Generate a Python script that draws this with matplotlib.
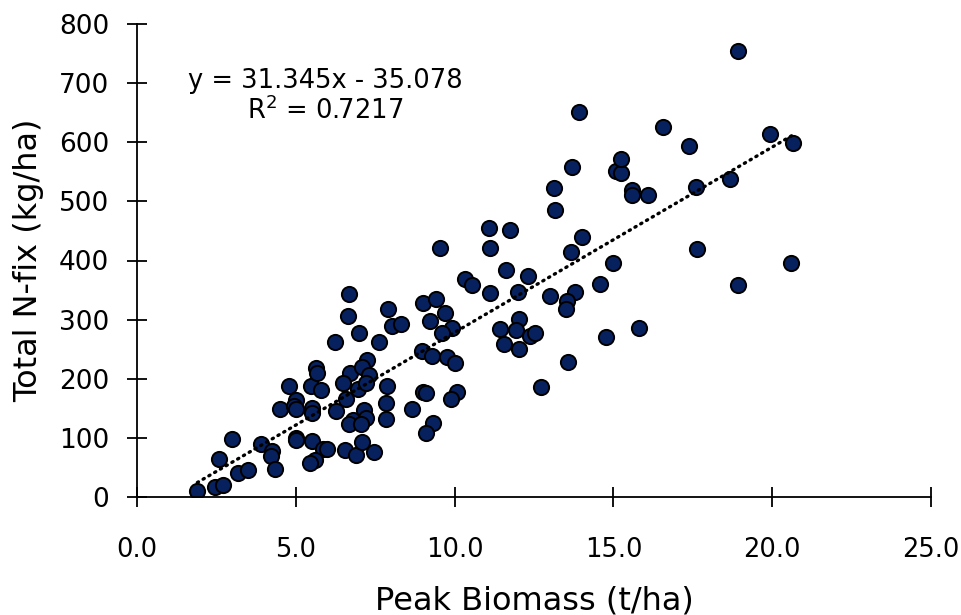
import matplotlib.pyplot as plt
import numpy as np

plt.rcParams['font.family'] = ['DejaVu Sans']

# peak biomass (t/ha) and total N-fix (kg/ha)
biomass = [1.90, 2.46, 2.70, 2.59, 3.00, 3.19, 3.50, 3.90, 4.24, 4.21,
           4.35, 4.50, 4.80, 5.00, 4.94, 5.00, 5.00, 5.02, 5.48, 5.50,
           5.50, 5.63, 5.66, 5.80, 5.51, 5.87, 5.97, 5.62, 5.45, 6.24,
           6.25, 6.66, 6.64, 6.71, 6.50, 6.59, 6.79, 6.69, 6.56, 6.88,
           7.00, 6.97, 7.23, 7.09, 7.32, 7.20, 7.15, 7.21, 7.06, 7.10,
           7.46, 7.63, 7.90, 7.87, 7.85, 7.83, 8.03, 8.30, 8.67, 8.97,
           9.02, 9.41, 9.70, 9.23, 9.91, 9.61, 9.30, 9.77, 10.02, 9.02,
           9.10, 10.09, 9.89, 9.33, 9.09, 9.54, 10.32, 10.55, 11.07, 11.11,
           11.10, 11.73, 11.62, 12.32, 12.00, 12.02, 11.42, 11.94, 12.38, 12.54,
           11.55, 12.04, 12.73, 13.00, 13.14, 13.17, 13.69, 13.67, 14.00, 13.80,
           13.53, 13.50, 13.56, 13.92, 14.59, 14.76, 14.99, 15.09, 15.23, 15.25,
           15.59, 15.57, 16.10, 15.82, 16.57, 17.39, 17.60, 17.63, 18.68, 18.92,
           18.93, 19.93, 20.64, 20.59]
nfix = [10, 17, 20, 65, 98, 41, 46, 89, 78, 70,
        48, 148, 187, 164, 154, 148, 100, 96, 187, 151,
        142, 219, 209, 181, 94, 82, 81, 63, 57, 263,
        146, 344, 306, 209, 193, 165, 130, 123, 80, 71,
        277, 182, 231, 220, 206, 192, 147, 133, 124, 93,
        76, 263, 318, 188, 159, 132, 289, 293, 148, 247,
        328, 335, 312, 298, 286, 277, 239, 236, 227, 178,
        176, 178, 165, 126, 109, 421, 369, 359, 455, 421,
        345, 452, 384, 374, 347, 301, 284, 282, 272, 278,
        259, 250, 186, 340, 523, 486, 558, 415, 440, 346,
        332, 318, 228, 651, 360, 271, 395, 552, 548, 572,
        519, 510, 510, 285, 625, 594, 525, 420, 537, 754,
        358, 614, 598, 395]

# linear trendline shown on the chart
slope = 31.345
intercept = -35.078
r2 = 0.7217

fig = plt.figure(figsize=(9.61, 6.15), dpi=100)
ax = fig.add_axes([137/961, 1 - 497/615, (931 - 137)/961, (497 - 24)/615])

x = np.array(biomass)
xl = np.array([x.min(), x.max()])
ax.plot(xl, slope * xl + intercept, color='black', lw=2.4,
        linestyle=(0, (0.4, 1.6)), dash_capstyle='round', zorder=3)
ax.scatter(biomass, nfix, s=120, c='#06215e', edgecolors='black',
           linewidths=1.4, zorder=2)

ax.set_xlim(0, 25)
ax.set_ylim(0, 800)
ax.set_xticks(np.arange(0, 25.1, 5))
ax.set_xticklabels(['{:.1f}'.format(v) for v in np.arange(0, 25.1, 5)])
ax.set_yticks(np.arange(0, 801, 100))

for s in ['top', 'right']:
    ax.spines[s].set_visible(False)
for s in ['left', 'bottom']:
    ax.spines[s].set_linewidth(1.3)
ax.tick_params(axis='both', direction='inout', length=14, width=1.3,
               labelsize=18.5, colors='black')
ax.tick_params(axis='y', labelsize=19, pad=13)
ax.tick_params(axis='x', pad=22)

ax.set_xlabel('Peak Biomass (t/ha)', fontsize=23, labelpad=16)
ax.set_ylabel('Total N-fix (kg/ha)', fontsize=23, labelpad=11)

ax.text(325/961, 1 - 81/615, 'y = 31.345x - 35.078', transform=fig.transFigure,
        ha='center', va='center', fontsize=18.5)
ax.text(325/961, 1 - 111/615, 'R$^2$ = {}'.format(r2), transform=fig.transFigure,
        ha='center', va='center', fontsize=18.5)

fig.savefig('out.png', dpi=100)
